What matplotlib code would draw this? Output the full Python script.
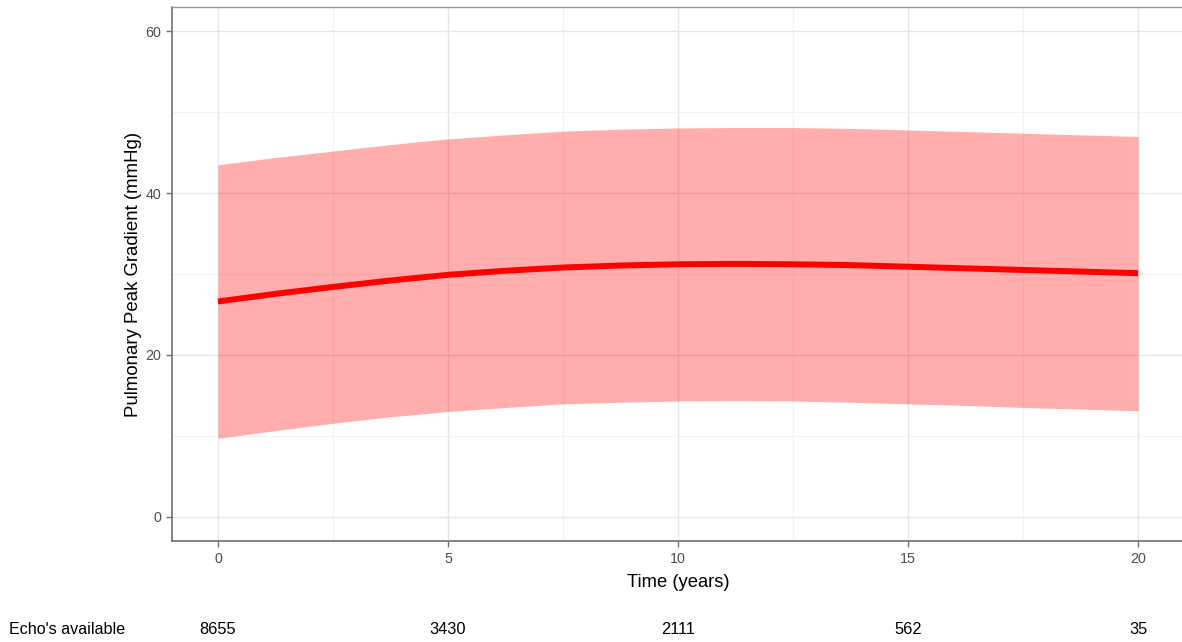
import matplotlib.pyplot as plt
from matplotlib.ticker import MultipleLocator

plt.rcParams["font.family"] = ["Liberation Sans", "DejaVu Sans"]

years = [0, 1.25, 2.5, 3.75, 5, 6.25, 7.5, 8.75, 10, 11.25, 12.5, 13.75, 15, 16.25, 17.5, 18.75, 20]
mean_grad = [26.6, 27.55, 28.4, 29.2, 29.9, 30.4, 30.8, 31.05, 31.2, 31.25, 31.2, 31.1,
             30.9, 30.7, 30.5, 30.3, 30.1]
upper_grad = [43.5, 44.4, 45.2, 46.0, 46.7, 47.2, 47.65, 47.9, 48.05, 48.1, 48.1, 48.0,
              47.8, 47.6, 47.4, 47.2, 47.0]
lower_grad = [9.7, 10.65, 11.55, 12.35, 13.0, 13.5, 13.95, 14.15, 14.3, 14.35, 14.3, 14.15,
              13.95, 13.75, 13.5, 13.3, 13.1]

count_years = [0, 5, 10, 15, 20]
echo_counts = ["8655", "3430", "2111", "562", "35"]

fig = plt.figure(figsize=(11.82, 6.42), dpi=100)
ax = fig.add_axes([172 / 1182, 101 / 642, 1012 / 1182, 534 / 642])

# translucent ribbon so the grid shows through, like in ggplot
ax.fill_between(years, lower_grad, upper_grad, color="#ff0000", alpha=0.32, lw=0, zorder=2)
ax.plot(years, mean_grad, color="#ff0000", lw=4.3, zorder=3, solid_capstyle="butt")

ax.set_xlim(-1, 21)
ax.set_ylim(-3, 63)
ax.xaxis.set_major_locator(MultipleLocator(5))
ax.xaxis.set_minor_locator(MultipleLocator(2.5))
ax.yaxis.set_major_locator(MultipleLocator(20))
ax.yaxis.set_minor_locator(MultipleLocator(10))
ax.grid(which="major", color="#e6e6e6", lw=1.0, zorder=1)
ax.grid(which="minor", color="#f2f2f2", lw=0.8, zorder=1)
ax.set_axisbelow(True)

for side in ["left", "bottom"]:
    ax.spines[side].set_color("#707070")
    ax.spines[side].set_linewidth(1.2)
for side in ["top", "right"]:
    ax.spines[side].set_color("#9a9a9a")
    ax.spines[side].set_linewidth(1.0)

ax.tick_params(which="major", length=4, width=1, color="#707070",
               labelcolor="#4d4d4d", labelsize=10.3, pad=4)
ax.tick_params(which="minor", length=0)

ax.set_xlabel("Time (years)", fontsize=13.2, labelpad=6)
ax.set_ylabel("Pulmonary Peak Gradient (mmHg)", fontsize=13.4, labelpad=2)

# numbers at risk row under the axis
for x, n in zip(count_years, echo_counts):
    ax.annotate(n, xy=(x, 0), xycoords=("data", "axes fraction"),
                xytext=(0, -89), textcoords="offset pixels",
                ha="center", va="center", fontsize=11.8, color="black")
fig.text(9 / 1182, 1 - 630 / 642, "Echo's available", ha="left", va="center",
         fontsize=11.6, color="black")

fig.savefig("out.png", dpi=100)
